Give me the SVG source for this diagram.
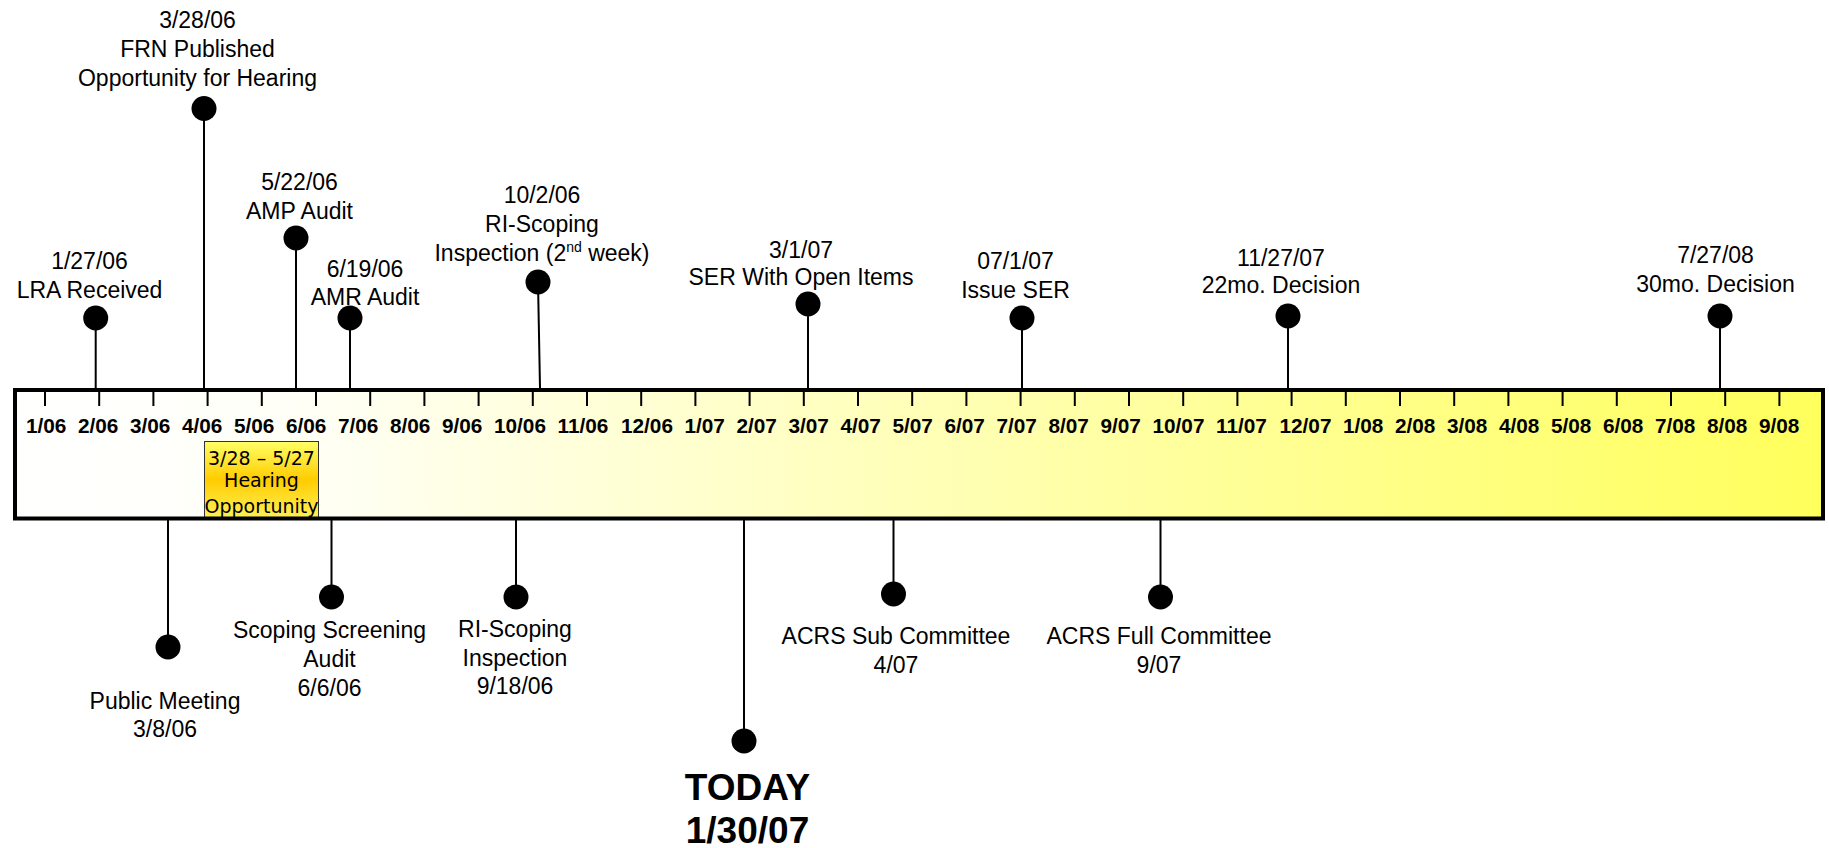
<svg xmlns="http://www.w3.org/2000/svg" width="1829" height="848" viewBox="0 0 1829 848">
<defs>
<linearGradient id="barGrad" x1="0" y1="0" x2="1" y2="0">
<stop offset="0" stop-color="#FFFFFF"/>
<stop offset="0.15" stop-color="#FFFFF8"/>
<stop offset="1" stop-color="#FFFF5C"/>
</linearGradient>
<linearGradient id="hearGrad" x1="0" y1="0" x2="0" y2="1">
<stop offset="0" stop-color="#FFFF66"/>
<stop offset="0.5" stop-color="#FFCC00"/>
<stop offset="1" stop-color="#FFF055"/>
</linearGradient>
<style>
.lbl{font-family:"Liberation Sans",Arial,sans-serif;font-size:23px;fill:#000;text-anchor:middle}
.tick{font-family:"Liberation Sans",Arial,sans-serif;font-size:20.78px;font-weight:bold;fill:#000}
.today{font-family:"Liberation Sans",Arial,sans-serif;font-size:37px;font-weight:bold;fill:#000;text-anchor:middle}
.hear{font-family:"DejaVu Sans",Verdana,sans-serif;font-size:19px;fill:#000;text-anchor:middle}
.conn{stroke:#000;stroke-width:2;fill:none}
.tk{stroke:#000;stroke-width:2}
.dot{fill:#000}
</style>
</defs>
<rect width="1829" height="848" fill="#FFFFFF"/>

<g id="timeline-bar">
<rect x="15" y="390" width="1808" height="128.5" fill="url(#barGrad)"/>
</g>

<g id="hearing-opportunity">
<rect x="204.5" y="441.5" width="114" height="76" fill="url(#hearGrad)" stroke="#333" stroke-width="1"/>
<text class="hear" x="261.5" y="465">3/28 – 5/27</text>
<text class="hear" x="261.5" y="487">Hearing</text>
<text class="hear" x="261.5" y="512.5">Opportunity</text>
</g>

<g id="timeline-border">
<rect x="15" y="390" width="1808" height="128.5" fill="none" stroke="#000" stroke-width="4"/>
</g>

<g id="ticks">
<path class="tk" d="M45 391V406M99.2 391V406M153.4 391V406M207.6 391V406M261.8 391V406M316 391V406M370.2 391V406M424.4 391V406M478.6 391V406M532.8 391V406M587 391V406M641.2 391V406M695.4 391V406M749.6 391V406M803.8 391V406M858 391V406M912.2 391V406M966.4 391V406M1020.6 391V406M1074.8 391V406M1129 391V406M1183.2 391V406M1237.4 391V406M1291.6 391V406M1345.8 391V406M1400 391V406M1454.2 391V406M1508.4 391V406M1562.6 391V406M1616.8 391V406M1671 391V406M1725.2 391V406M1779.4 391V406"/>
<text class="tick" x="26" y="433">1/06</text>
<text class="tick" x="78" y="433">2/06</text>
<text class="tick" x="130" y="433">3/06</text>
<text class="tick" x="182" y="433">4/06</text>
<text class="tick" x="234" y="433">5/06</text>
<text class="tick" x="286" y="433">6/06</text>
<text class="tick" x="338" y="433">7/06</text>
<text class="tick" x="390" y="433">8/06</text>
<text class="tick" x="442" y="433">9/06</text>
<text class="tick" x="494" y="433">10/06</text>
<text class="tick" x="557.5" y="433">11/06</text>
<text class="tick" x="621" y="433">12/06</text>
<text class="tick" x="684.5" y="433">1/07</text>
<text class="tick" x="736.5" y="433">2/07</text>
<text class="tick" x="788.5" y="433">3/07</text>
<text class="tick" x="840.5" y="433">4/07</text>
<text class="tick" x="892.5" y="433">5/07</text>
<text class="tick" x="944.5" y="433">6/07</text>
<text class="tick" x="996.5" y="433">7/07</text>
<text class="tick" x="1048.5" y="433">8/07</text>
<text class="tick" x="1100.5" y="433">9/07</text>
<text class="tick" x="1152.5" y="433">10/07</text>
<text class="tick" x="1216" y="433">11/07</text>
<text class="tick" x="1279.5" y="433">12/07</text>
<text class="tick" x="1343" y="433">1/08</text>
<text class="tick" x="1395" y="433">2/08</text>
<text class="tick" x="1447" y="433">3/08</text>
<text class="tick" x="1499" y="433">4/08</text>
<text class="tick" x="1551" y="433">5/08</text>
<text class="tick" x="1603" y="433">6/08</text>
<text class="tick" x="1655" y="433">7/08</text>
<text class="tick" x="1707" y="433">8/08</text>
<text class="tick" x="1759" y="433">9/08</text>
</g>

<g id="connectors">
<line class="conn" x1="95.7" y1="318" x2="95.7" y2="388"/>
<line class="conn" x1="204" y1="108.5" x2="204" y2="388"/>
<line class="conn" x1="296" y1="238" x2="296" y2="388"/>
<line class="conn" x1="350" y1="318" x2="350" y2="388"/>
<line class="conn" x1="538" y1="282" x2="540" y2="388"/>
<line class="conn" x1="808" y1="304" x2="808" y2="388"/>
<line class="conn" x1="1022" y1="318" x2="1022" y2="388"/>
<line class="conn" x1="1288" y1="316" x2="1288" y2="388"/>
<line class="conn" x1="1720" y1="316" x2="1720" y2="388"/>
<line class="conn" x1="168" y1="520" x2="168" y2="647"/>
<line class="conn" x1="331.5" y1="520" x2="331.5" y2="597"/>
<line class="conn" x1="516" y1="520" x2="516" y2="597"/>
<line class="conn" x1="744" y1="520" x2="744" y2="741"/>
<line class="conn" x1="893.5" y1="520" x2="893.5" y2="594"/>
<line class="conn" x1="1160.5" y1="520" x2="1160.5" y2="597"/>
</g>

<g id="lra-received">
<circle class="dot" cx="95.7" cy="318" r="12.5"/>
<text class="lbl" x="89.5" y="269.3">1/27/06</text>
<text class="lbl" x="89.5" y="298.3">LRA Received</text>
</g>
<g id="frn-published">
<circle class="dot" cx="204" cy="108.5" r="12.5"/>
<text class="lbl" x="197.5" y="28.3">3/28/06</text>
<text class="lbl" x="197.5" y="57.3">FRN Published</text>
<text class="lbl" x="197.5" y="86">Opportunity for Hearing</text>
</g>
<g id="amp-audit">
<circle class="dot" cx="296" cy="238" r="12.5"/>
<text class="lbl" x="299.5" y="190">5/22/06</text>
<text class="lbl" x="299.5" y="218.5">AMP Audit</text>
</g>
<g id="amr-audit">
<circle class="dot" cx="350" cy="318" r="12.5"/>
<text class="lbl" x="365" y="276.7">6/19/06</text>
<text class="lbl" x="365" y="305">AMR Audit</text>
</g>
<g id="ri-scoping-2nd-week">
<circle class="dot" cx="538" cy="282" r="12.5"/>
<text class="lbl" x="542" y="203.3">10/2/06</text>
<text class="lbl" x="542" y="232.3">RI-Scoping</text>
<text class="lbl" x="542" y="260.5">Inspection (2<tspan font-size="14" dy="-9">nd</tspan><tspan dy="9"> week)</tspan></text>
</g>
<g id="ser-open-items">
<circle class="dot" cx="808" cy="304" r="12.5"/>
<text class="lbl" x="801" y="258.3">3/1/07</text>
<text class="lbl" x="801" y="285">SER With Open Items</text>
</g>
<g id="issue-ser">
<circle class="dot" cx="1022" cy="318" r="12.5"/>
<text class="lbl" x="1015.5" y="269.3">07/1/07</text>
<text class="lbl" x="1015.5" y="298.3">Issue SER</text>
</g>
<g id="decision-22mo">
<circle class="dot" cx="1288" cy="316" r="12.5"/>
<text class="lbl" x="1281" y="266">11/27/07</text>
<text class="lbl" x="1281" y="293.3">22mo. Decision</text>
</g>
<g id="decision-30mo">
<circle class="dot" cx="1720" cy="316" r="12.5"/>
<text class="lbl" x="1715.5" y="263.3">7/27/08</text>
<text class="lbl" x="1715.5" y="291.7">30mo. Decision</text>
</g>

<g id="public-meeting">
<circle class="dot" cx="168" cy="647" r="12.5"/>
<text class="lbl" x="165" y="708.5">Public Meeting</text>
<text class="lbl" x="165" y="737">3/8/06</text>
</g>
<g id="scoping-screening-audit">
<circle class="dot" cx="331.5" cy="597" r="12.5"/>
<text class="lbl" x="329.5" y="638.3">Scoping Screening</text>
<text class="lbl" x="329.5" y="667">Audit</text>
<text class="lbl" x="329.5" y="695.5">6/6/06</text>
</g>
<g id="ri-scoping-inspection">
<circle class="dot" cx="516" cy="597" r="12.5"/>
<text class="lbl" x="515" y="637">RI-Scoping</text>
<text class="lbl" x="515" y="665.5">Inspection</text>
<text class="lbl" x="515" y="693.5">9/18/06</text>
</g>
<g id="today">
<circle class="dot" cx="744" cy="741" r="12.5"/>
<text class="today" x="747.5" y="800">TODAY</text>
<text class="today" x="747.5" y="843">1/30/07</text>
</g>
<g id="acrs-sub-committee">
<circle class="dot" cx="893.5" cy="594" r="12.5"/>
<text class="lbl" x="896" y="644.3">ACRS Sub Committee</text>
<text class="lbl" x="896" y="672.7">4/07</text>
</g>
<g id="acrs-full-committee">
<circle class="dot" cx="1160.5" cy="597" r="12.5"/>
<text class="lbl" x="1159" y="644.3">ACRS Full Committee</text>
<text class="lbl" x="1159" y="672.7">9/07</text>
</g>
</svg>
